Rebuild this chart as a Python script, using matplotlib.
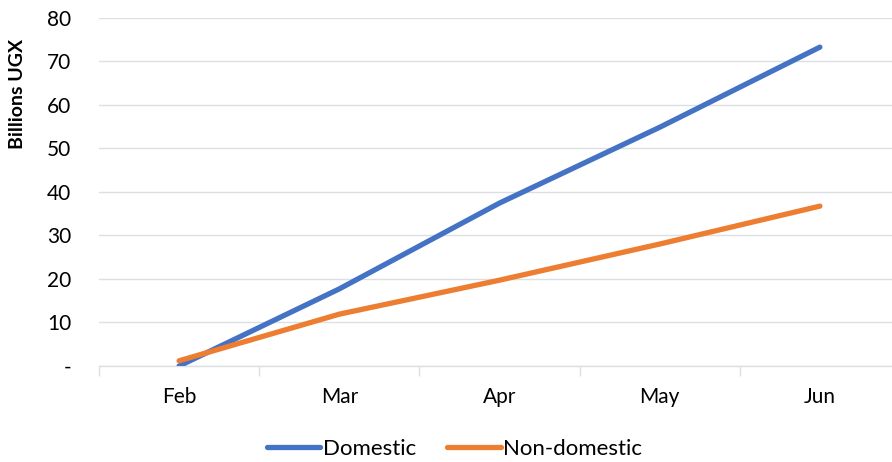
import numpy as np
import matplotlib
matplotlib.use("Agg")
import matplotlib.pyplot as plt
from matplotlib.ticker import FixedLocator, NullFormatter

months = ["Feb", "Mar", "Apr", "May", "Jun"]
domestic = [0.0, 17.7, 37.4, 54.8, 73.2]
non_domestic = [1.2, 11.9, 19.7, 28.0, 36.7]
y_ticks = [0, 10, 20, 30, 40, 50, 60, 70, 80]
y_labels = ["-", "10", "20", "30", "40", "50", "60", "70", "80"]

plt.rcParams["font.family"] = ["Lato", "DejaVu Sans"]

fig = plt.figure(figsize=(8.92, 4.62), dpi=100)
ax = fig.add_axes([99 / 892, 96 / 462, 801 / 892, 348.5 / 462])

x = np.arange(len(months))
ax.plot(x, domestic, color="#4472C4", lw=3.8, solid_capstyle="round", label="Domestic", zorder=3)
ax.plot(x, non_domestic, color="#ED7D31", lw=3.8, solid_capstyle="round", label="Non-domestic", zorder=3)

ax.set_xlim(-0.5, len(months) - 0.5)
ax.set_ylim(0, 80)
ax.set_yticks(y_ticks)
ax.set_yticklabels(y_labels, fontsize=15)
ax.set_xticks(x)
ax.set_xticklabels(months, fontsize=15)
ax.tick_params(axis="x", length=0, pad=15)
ax.xaxis.set_minor_locator(FixedLocator(np.arange(-0.5, len(months), 1.0)))
ax.xaxis.set_minor_formatter(NullFormatter())
ax.tick_params(axis="x", which="minor", length=7, color="#dcdfe4", width=1)
ax.tick_params(axis="y", length=0, pad=20)

ax.grid(axis="y", color="#dcdfe4", lw=1)
ax.set_axisbelow(True)
for s in ["top", "right", "left"]:
    ax.spines[s].set_visible(False)
ax.spines["bottom"].set_color("#dcdfe4")
ax.spines["bottom"].set_linewidth(1)

ax.set_ylabel("Billions UGX", fontsize=14, fontweight="bold")
ax.yaxis.set_label_coords(-0.091, 0.78)

leg = fig.legend(loc="center", ncol=2, frameon=False,
                 fontsize=16, handlelength=2.4, handletextpad=0.12, columnspacing=1.4,
                 bbox_to_anchor=(454.5 / 892, 1 - 449 / 462), bbox_transform=fig.transFigure)

fig.savefig("out.png", dpi=100)
